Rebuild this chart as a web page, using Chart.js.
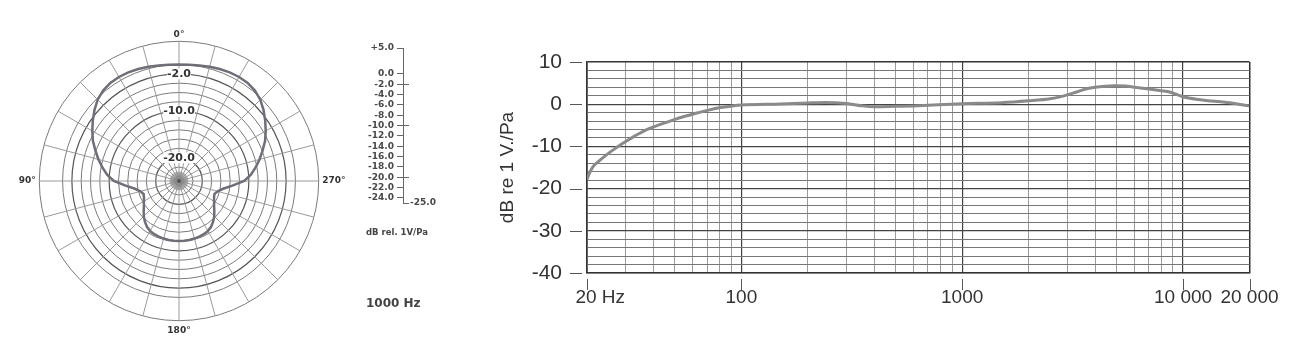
<!DOCTYPE html>
<html>
<head>
<meta charset="utf-8">
<script src="https://cdn.jsdelivr.net/npm/chart.js@4.4.1/dist/chart.umd.min.js"></script>
<style>
  body { margin: 0; background: #fff; width: 1299px; height: 353px; position: relative; overflow: hidden; }
  canvas { position: absolute; }
  #polar { left: 0; top: 27px; }
  #dbScale { left: 340px; top: 0; }
  #response { left: 470px; top: 0; }
  .note { position: absolute; left: 366px; font-family: "DejaVu Sans", sans-serif; font-weight: bold; color: #444; white-space: nowrap; }
</style>
</head>
<body>
<canvas id="polar" width="358" height="310"></canvas>
<canvas id="dbScale" width="120" height="353"></canvas>
<canvas id="response" width="829" height="353"></canvas>
<div class="note" style="top:227px;font-size:8.5px;">dB rel. 1V/Pa</div>
<div class="note" style="top:296px;font-size:12px;">1000 Hz</div>
<script>
// polar pattern at 1000 Hz, angle in degrees -> dB
var polarAngles = [0,5,10,15,20,25,30,35,40,45,50,55,60,65,70,75,80,85,90,95,100,105,110,115,120,125,130,135,140,145,150,155,160,165,170,175,
  180,185,190,195,200,205,210,215,220,225,230,235,240,245,250,255,260,265,270,275,280,285,290,295,300,305,310,315,320,325,330,335,340,345,350,355];
var polarDb = [0,0.05,0.2,0.4,0.6,0.75,0.8,0.7,0.35,-0.3,-1.3,-2.4,-3.5,-4.6,-5.9,-7.1,-8.3,-9.5,-11,-13.5,-15.4,-16.4,-16.9,-16.7,-16.3,-15.8,-15.1,-14.3,-13.6,-13,-12.6,-12.4,-12.3,-12.2,-12.15,-12.1,
  -12.1,-12.1,-12.15,-12.2,-12.3,-12.4,-12.6,-13,-13.6,-14.3,-15.1,-15.8,-16.3,-16.7,-16.9,-16.4,-15.4,-13.5,-11,-9.5,-8.3,-7.1,-5.9,-4.6,-3.5,-2.4,-1.3,-0.3,0.35,0.7,0.8,0.75,0.6,0.4,0.2,0.05];
var polarRings = [-24,-22,-20,-18,-16,-14,-12,-10,-8,-6,-4,-2,0,5];
var polarRingLabels = [-2,-10,-20];
var polarDegreeLabels = [0,90,180,270];

// dB legend beside the polar plot
var legendTicks = [-25,-24,-22,-20,-18,-16,-14,-12,-10,-8,-6,-4,-2,0,5];
var legendLong = [-2,-10,-20,-25];

// frequency response
var freqHz = [20,20.5,21.3,22.5,24.5,27,29.2,33,37.3,43,49.3,56,63,71,80.5,90,100,150,200,240,300,350,400,500,600,1000,1500,2000,2500,2800,3300,3700,4300,4900,5500,5900,7000,8000,8700,10000,11700,13500,15800,20000];
var responseDb = [-17.8,-16.4,-14.8,-13.6,-12,-10.4,-9.2,-7.5,-6,-4.8,-3.7,-2.8,-2.1,-1.4,-0.8,-0.45,-0.2,0.05,0.3,0.4,0.15,-0.35,-0.6,-0.5,-0.4,0.1,0.35,0.8,1.3,1.8,2.9,3.7,4.2,4.4,4.3,4.1,3.6,3.2,2.9,1.75,1.1,0.75,0.4,-0.4];
var freqGrid = [20,30,40,50,60,70,80,90,100,200,300,400,500,600,700,800,900,1000,2000,3000,4000,5000,6000,7000,8000,9000,10000,20000];
var freqLabelValues = [20,100,1000,10000,20000];
var freqLabelText = ['     20 Hz','100','1000','10 000','20 000'];
var dbGrid = [-40,-38,-36,-34,-32,-30,-28,-26,-24,-22,-20,-18,-16,-14,-12,-10,-8,-6,-4,-2,0,2,4,6,8,10];
var dbLabelValues = [-40,-30,-20,-10,0,10];

// ---------- polar plot ----------
// radar goes clockwise from the top, the plot goes counter-clockwise: 90 is on the left
var radarAngles = polarAngles.map(function(a, i){ return (360 - polarAngles[i]) % 360; });
var radarData = radarAngles.map(function(a){ return polarDb[polarAngles.indexOf(a)]; });
var radarLabels = radarAngles.map(function(a){ return polarDegreeLabels.indexOf(a) >= 0 ? a + '°' : ''; });

var centerStar = {
  id: 'centerStar',
  beforeDatasetsDraw: function(chart) {
    var r = chart.scales.r, ctx = chart.ctx;
    var len = r.getDistanceFromCenterForValue(-23);
    ctx.save();
    ctx.strokeStyle = '#8a8a8a';
    ctx.lineWidth = 0.6;
    ctx.beginPath();
    for (var i = 0; i < radarAngles.length; i++) {
      var p = r.getPointPosition(i, len);
      ctx.moveTo(r.xCenter, r.yCenter);
      ctx.lineTo(p.x, p.y);
    }
    ctx.stroke();
    ctx.fillStyle = '#555';
    ctx.beginPath();
    ctx.arc(r.xCenter, r.yCenter, 2, 0, Math.PI * 2);
    ctx.fill();
    ctx.restore();
  }
};

new Chart(document.getElementById('polar'), {
  type: 'radar',
  data: {
    labels: radarLabels,
    datasets: [{
      data: radarData,
      borderColor: '#6e6e78',
      borderWidth: 2.5,
      pointRadius: 0,
      fill: false,
      tension: 0
    }]
  },
  options: {
    responsive: false,
    animation: false,
    plugins: { legend: { display: false }, tooltip: { enabled: false } },
    scales: {
      r: {
        min: -25,
        max: 5,
        afterBuildTicks: function(s){ s.ticks = polarRings.map(function(v){ return { value: v }; }); },
        grid: {
          circular: true,
          color: function(c){ return polarRingLabels.indexOf(c.tick.value) >= 0 ? '#555' : '#7a7a7a'; },
          lineWidth: function(c){ return polarRingLabels.indexOf(c.tick.value) >= 0 ? 1.2 : 1; }
        },
        angleLines: {
          color: function(c){ return radarAngles[c.index] % 15 === 0 ? '#9a9a9a' : 'transparent'; },
          lineWidth: 1
        },
        pointLabels: {
          font: { family: 'DejaVu Sans', size: 9, weight: 'bold' },
          color: '#333',
          padding: function(c){
            if (c.index === 0) return -4;
            if (c.index === 36) return -1;
            return -2;
          }
        },
        ticks: {
          font: { family: 'DejaVu Sans', size: 11, weight: 'bold' },
          color: '#333',
          callback: function(v){ return polarRingLabels.indexOf(v) >= 0 ? v.toFixed(1) : ''; },
          showLabelBackdrop: function(c){ return polarRingLabels.indexOf(c.tick.value) >= 0; },
          backdropColor: '#fff',
          backdropPadding: function(c){ return c.tick.value === -2 ? { x: 10, y: 1 } : { x: 3, y: 1 }; }
        }
      }
    }
  },
  plugins: [centerStar]
});

// ---------- dB legend ----------
new Chart(document.getElementById('dbScale'), {
  type: 'scatter',
  data: { datasets: [] },
  options: {
    responsive: false,
    animation: false,
    layout: { padding: { top: 48, bottom: 150 } },
    plugins: { legend: { display: false }, tooltip: { enabled: false } },
    scales: {
      x: { display: false },
      y: {
        position: 'left',
        min: -25, max: 5,
        afterBuildTicks: function(s){ s.ticks = legendTicks.map(function(v){ return { value: v }; }); },
        afterFit: function(s){ s.width = 63; },
        grid: {
          color: function(c){ return legendLong.indexOf(c.tick.value) >= 0 ? '#666' : 'transparent'; },
          tickColor: function(c){ return c.tick.value === -25 ? 'transparent' : '#666'; },
          tickLength: 6,
          lineWidth: 1
        },
        border: { color: '#666', width: 1 },
        ticks: {
          autoSkip: false,
          padding: 3,
          color: '#484848',
          font: { family: 'DejaVu Sans', size: 9, weight: 'bold', lineHeight: 1 },
          callback: function(v){ return v === -25 ? '' : (v > 0 ? '+' : '') + v.toFixed(1); }
        }
      },
      y2: {
        position: 'right',
        min: -25, max: 5,
        afterBuildTicks: function(s){ s.ticks = [{ value: -25 }]; },
        afterFit: function(s){ s.width = 51; },
        grid: { display: false, drawTicks: false },
        border: { display: false },
        ticks: {
          padding: 1,
          color: '#484848',
          font: { family: 'DejaVu Sans', size: 9, weight: 'bold' },
          callback: function(v){ return v.toFixed(1); }
        }
      }
    }
  }
});

// ---------- frequency response ----------
var tickMarks = {
  id: 'tickMarks',
  afterDraw: function(chart) {
    var ctx = chart.ctx, a = chart.chartArea, sx = chart.scales.x, sy = chart.scales.y;
    ctx.save();
    ctx.strokeStyle = '#555';
    ctx.lineWidth = 1;
    ctx.beginPath();
    freqLabelValues.forEach(function(v){
      var x = Math.round(sx.getPixelForValue(v)) + 0.5;
      ctx.moveTo(x, a.bottom + 6);
      ctx.lineTo(x, a.bottom + 17);
    });
    dbLabelValues.forEach(function(v){
      var y = Math.round(sy.getPixelForValue(v)) + 0.5;
      ctx.moveTo(a.left - 17, y);
      ctx.lineTo(a.left - 5, y);
    });
    ctx.stroke();
    ctx.restore();
  }
};

new Chart(document.getElementById('response'), {
  type: 'line',
  data: {
    datasets: [{
      data: freqHz.map(function(f, i){ return { x: f, y: responseDb[i] }; }),
      borderColor: '#8a8a8a',
      borderWidth: 3,
      pointRadius: 0,
      fill: false,
      cubicInterpolationMode: 'monotone'
    }]
  },
  options: {
    responsive: false,
    animation: false,
    layout: { padding: { top: 62, right: 49.5 } },
    plugins: { legend: { display: false }, tooltip: { enabled: false } },
    scales: {
      x: {
        type: 'logarithmic',
        min: 20, max: 20000,
        afterBuildTicks: function(s){ s.ticks = freqGrid.map(function(v){ return { value: v }; }); },
        afterFit: function(s){ s.height = 80; },
        grid: {
          drawTicks: false,
          color: function(c){
            var v = c.tick.value;
            if (v === 20 || v === 20000) return '#333';
            return (v === 100 || v === 1000 || v === 10000) ? '#444' : '#9a9a9a';
          },
          lineWidth: function(c){
            var v = c.tick.value;
            if (v === 20 || v === 20000) return 1.5;
            return (v === 100 || v === 1000 || v === 10000) ? 1.2 : 1;
          }
        },
        border: { color: '#333', width: 1.5 },
        ticks: {
          autoSkip: false,
          maxRotation: 0,
          padding: 13,
          color: '#333',
          font: { family: 'Liberation Sans', size: 19 },
          callback: function(v){ var i = freqLabelValues.indexOf(v); return i < 0 ? '' : freqLabelText[i]; }
        }
      },
      y: {
        min: -40, max: 10,
        afterBuildTicks: function(s){ s.ticks = dbGrid.map(function(v){ return { value: v }; }); },
        afterFit: function(s){ s.width = 117; },
        title: {
          display: true,
          text: 'dB re 1 V./Pa',
          color: '#333',
          font: { family: 'Liberation Sans', size: 19 },
          padding: { top: 26, bottom: 0 }
        },
        grid: {
          drawTicks: false,
          color: function(c){
            var v = c.tick.value;
            if (v === 10) return '#333';
            return v % 10 === 0 ? '#444' : '#777';
          },
          lineWidth: function(c){
            var v = c.tick.value;
            if (v === 10) return 1.5;
            return v % 10 === 0 ? 1.3 : 1;
          }
        },
        border: { color: '#333', width: 1.5 },
        ticks: {
          autoSkip: false,
          padding: 25,
          color: '#333',
          font: { family: 'Liberation Sans', size: 21 },
          callback: function(v){ return dbLabelValues.indexOf(v) >= 0 ? String(v) : ''; }
        }
      }
    }
  },
  plugins: [tickMarks]
});
</script>
</body>
</html>
